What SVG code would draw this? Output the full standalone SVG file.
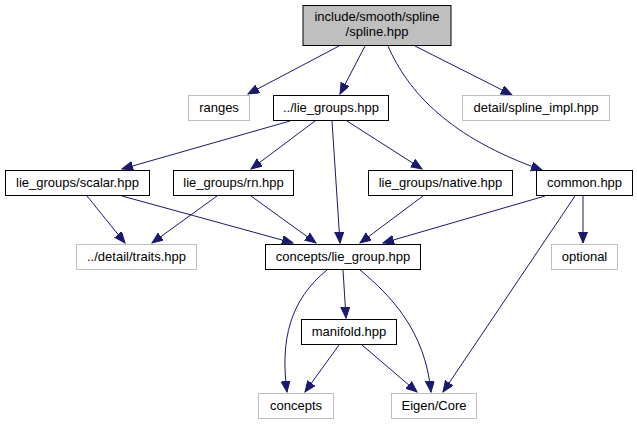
<svg xmlns="http://www.w3.org/2000/svg" width="637" height="425" viewBox="0 0 637 425">
<style>
  .n rect { fill: #ffffff; stroke: #000000; stroke-width: 1; }
  .g rect { fill: #ffffff; stroke: #bfbfbf; stroke-width: 1; }
  .root rect { fill: #bfbfbf; stroke: #000000; stroke-width: 1; }
  text { font-family: "Liberation Sans", Arial, sans-serif; font-size: 13px; fill: #000000; text-anchor: middle; }
  .e path { fill: none; stroke: #191970; stroke-width: 1; marker-end: url(#arr); }
</style>
<defs>
  <marker id="arr" markerUnits="userSpaceOnUse" markerWidth="12" markerHeight="10" refX="11" refY="4.5" orient="auto">
    <path d="M0,0 L11,4.5 L0,9 z" fill="#191970" stroke="#191970" stroke-width="1"/>
  </marker>
</defs>
<rect width="637" height="425" fill="#ffffff"/>
<g id="edges" class="e">
  <path d="M339,46 L248,94"/>
  <path d="M365,46 L340,94"/>
  <path d="M388,46 C408,92 450,138 542,170"/>
  <path d="M415,46 L512,95"/>
  <path d="M290,121 L122,169"/>
  <path d="M315,121 L251,169"/>
  <path d="M332,121 L340,243"/>
  <path d="M347,121 L422,169"/>
  <path d="M87,196 L125,243"/>
  <path d="M122,196 L293,243"/>
  <path d="M217,196 L152,243"/>
  <path d="M251,196 L316,243"/>
  <path d="M423,196 L360,243"/>
  <path d="M545,196 L383,243"/>
  <path d="M583,196 L583,243"/>
  <path d="M575,196 L443,392"/>
  <path d="M327,270 C290,300 280,340 287,392"/>
  <path d="M343,270 L346,318"/>
  <path d="M360,270 C390,295 425,330 431,392"/>
  <path d="M339,345 L305,392"/>
  <path d="M362,345 L417,392"/>
</g>
<g id="node_root" class="root">
  <rect x="303" y="5.5" width="148" height="40"/>
  <text x="377" y="21">include/smooth/spline</text>
  <text x="377" y="36">/spline.hpp</text>
</g>
<g id="node_ranges" class="g">
  <rect x="188.5" y="95.5" width="61" height="25"/>
  <text x="219" y="112">ranges</text>
</g>
<g id="node_lie_groups" class="n">
  <rect x="273.5" y="95.5" width="115" height="25"/>
  <text x="331" y="112">../lie_groups.hpp</text>
</g>
<g id="node_spline_impl" class="g">
  <rect x="462.5" y="95.5" width="147" height="25"/>
  <text x="536" y="112">detail/spline_impl.hpp</text>
</g>
<g id="node_scalar" class="n">
  <rect x="5.5" y="170.5" width="144" height="25"/>
  <text x="77.5" y="187">lie_groups/scalar.hpp</text>
</g>
<g id="node_rn" class="n">
  <rect x="173.5" y="170.5" width="120" height="25"/>
  <text x="233.5" y="187">lie_groups/rn.hpp</text>
</g>
<g id="node_native" class="n">
  <rect x="368.5" y="170.5" width="144" height="25"/>
  <text x="440.5" y="187">lie_groups/native.hpp</text>
</g>
<g id="node_common" class="n">
  <rect x="536.5" y="170.5" width="96" height="25"/>
  <text x="584.5" y="187">common.hpp</text>
</g>
<g id="node_traits" class="g">
  <rect x="76.5" y="244.5" width="120" height="25"/>
  <text x="136.5" y="261">../detail/traits.hpp</text>
</g>
<g id="node_lie_group" class="n">
  <rect x="265.5" y="244.5" width="155" height="25"/>
  <text x="343" y="261">concepts/lie_group.hpp</text>
</g>
<g id="node_optional" class="g">
  <rect x="551.5" y="244.5" width="66" height="25"/>
  <text x="584.5" y="261">optional</text>
</g>
<g id="node_manifold" class="n">
  <rect x="301.5" y="319.5" width="95" height="25"/>
  <text x="349" y="336">manifold.hpp</text>
</g>
<g id="node_concepts" class="g">
  <rect x="258.5" y="393.5" width="75" height="25"/>
  <text x="296" y="410">concepts</text>
</g>
<g id="node_eigen" class="g">
  <rect x="391.5" y="393.5" width="85" height="25"/>
  <text x="434" y="410">Eigen/Core</text>
</g>
</svg>
